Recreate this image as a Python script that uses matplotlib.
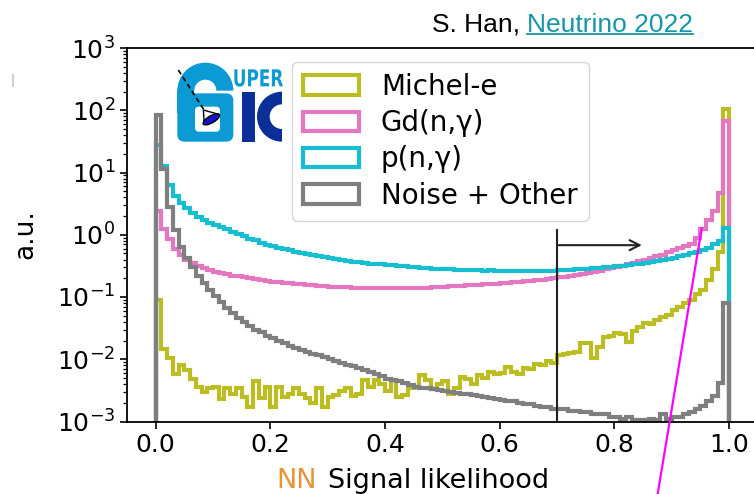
import numpy as np
import matplotlib
matplotlib.use("Agg")
import matplotlib.pyplot as plt
from matplotlib.patches import Wedge, Rectangle, FancyBboxPatch, Polygon, Ellipse, PathPatch
from matplotlib.textpath import TextPath
from matplotlib.font_manager import FontProperties
from matplotlib.transforms import Affine2D
from matplotlib.lines import Line2D

# ---- histogram contents (100 bins on [0, 1]) ----
bin_edges = np.linspace(0.0, 1.0, 101)

michel_e = [
    0.09, 0.0145, 0.0103, 0.0059, 0.0081, 0.0067, 0.0048, 0.0036, 0.0030, 0.0034,
    0.0036, 0.0023, 0.0034, 0.0028, 0.0034, 0.0025, 0.0017, 0.0044, 0.0024, 0.0036,
    0.0017, 0.0036, 0.0025, 0.0028, 0.0034, 0.0028, 0.0024, 0.0020, 0.0034, 0.0017,
    0.0025, 0.0027, 0.0031, 0.0034, 0.0026, 0.0028, 0.0047, 0.0036, 0.0047, 0.0040,
    0.0031, 0.0047, 0.0025, 0.0027, 0.0034, 0.0036, 0.0056, 0.0047, 0.0033, 0.0040,
    0.0045, 0.0028, 0.0035, 0.0052, 0.0048, 0.0040, 0.0055, 0.0050, 0.0062, 0.0058,
    0.0060, 0.0075, 0.0063, 0.0058, 0.0072, 0.0070, 0.0085, 0.0080, 0.0095, 0.0088,
    0.0115, 0.0120, 0.0125, 0.0130, 0.0180, 0.0180, 0.0105, 0.0160, 0.0230, 0.0240,
    0.0260, 0.0255, 0.0190, 0.0280, 0.0330, 0.0380, 0.0370, 0.0430, 0.0480, 0.0520,
    0.0620, 0.0700, 0.0800, 0.0900, 0.110, 0.130, 0.190, 0.280, 0.530, 103.0,
]

gd_capture = [
    2.45, 1.25, 0.85, 0.60, 0.47, 0.40, 0.35, 0.32, 0.29, 0.27,
    0.255, 0.24, 0.23, 0.22, 0.215, 0.21, 0.20, 0.195, 0.185, 0.18,
    0.176, 0.172, 0.168, 0.165, 0.162, 0.16, 0.157, 0.155, 0.152, 0.15,
    0.147, 0.146, 0.144, 0.143, 0.142, 0.141, 0.140, 0.139, 0.139, 0.138,
    0.138, 0.138, 0.139, 0.139, 0.14, 0.14, 0.141, 0.142, 0.143, 0.145,
    0.147, 0.148, 0.15, 0.152, 0.154, 0.156, 0.158, 0.16, 0.162, 0.164,
    0.166, 0.169, 0.172, 0.175, 0.178, 0.181, 0.185, 0.19, 0.195, 0.20,
    0.207, 0.213, 0.22, 0.228, 0.236, 0.245, 0.255, 0.265, 0.278, 0.29,
    0.305, 0.32, 0.335, 0.355, 0.375, 0.395, 0.42, 0.45, 0.48, 0.52,
    0.56, 0.61, 0.66, 0.72, 0.90, 1.25, 1.70, 2.40, 4.70, 66.0,
]

p_capture = [
    28.0, 12.5, 6.3, 4.2, 3.2, 2.65, 2.2, 1.95, 1.72, 1.55,
    1.43, 1.32, 1.22, 1.12, 1.02, 0.94, 0.87, 0.81, 0.75, 0.69,
    0.65, 0.62, 0.59, 0.56, 0.53, 0.51, 0.49, 0.47, 0.45, 0.435,
    0.42, 0.41, 0.40, 0.385, 0.37, 0.36, 0.35, 0.345, 0.34, 0.335,
    0.33, 0.325, 0.32, 0.315, 0.305, 0.30, 0.295, 0.29, 0.285, 0.28,
    0.28, 0.28, 0.275, 0.275, 0.27, 0.27, 0.27, 0.265, 0.27, 0.265,
    0.265, 0.265, 0.26, 0.265, 0.26, 0.26, 0.265, 0.26, 0.265, 0.265,
    0.27, 0.27, 0.275, 0.28, 0.28, 0.285, 0.29, 0.295, 0.30, 0.305,
    0.31, 0.32, 0.325, 0.335, 0.345, 0.355, 0.365, 0.38, 0.39, 0.41,
    0.43, 0.45, 0.47, 0.50, 0.53, 0.57, 0.62, 0.70, 0.80, 1.30,
]

noise_other = [
    85.0, 11.5, 2.8, 1.2, 0.64, 0.42, 0.30, 0.22, 0.165, 0.13,
    0.105, 0.082, 0.066, 0.055, 0.046, 0.040, 0.034, 0.030, 0.027, 0.024,
    0.022, 0.020, 0.018, 0.0165, 0.015, 0.014, 0.013, 0.0123, 0.0115, 0.0108,
    0.0102, 0.0095, 0.0088, 0.0082, 0.0077, 0.0072, 0.0067, 0.0062, 0.0058, 0.0053,
    0.0049, 0.0047, 0.0044, 0.0041, 0.0038, 0.0036, 0.0035, 0.0034, 0.0033, 0.0032,
    0.0031, 0.0030, 0.0029, 0.0028, 0.0028, 0.0027, 0.0026, 0.0025, 0.0024, 0.0023,
    0.0022, 0.0021, 0.0021, 0.0020, 0.0019, 0.0019, 0.0018, 0.0017, 0.0017, 0.0016,
    0.0016, 0.0016, 0.0015, 0.0015, 0.0014, 0.0014, 0.0013, 0.0013, 0.0013, 0.0012,
    0.0012, 0.0011, 0.0012, 0.00105, 0.00105, 0.00105, 0.0011, 0.00105, 0.0013, 0.0011,
    0.0012, 0.0012, 0.0013, 0.0014, 0.0016, 0.0018, 0.0021, 0.0026, 0.0042, 0.08,
]

series_labels = ["Michel-e", "Gd(n,γ)", "p(n,γ)", "Noise + Other"]
series_colors = ["#bcbd22", "#e377c2", "#17becf", "#7f7f7f"]
x_ticks = [0.0, 0.2, 0.4, 0.6, 0.8, 1.0]
likelihood_cut = 0.7

# ---- figure in pixel units ----
W, H = 754, 494
fig = plt.figure(figsize=(W / 100, H / 100), dpi=100)


def fpos(x, y):
    """pixel position (from top-left) -> figure fraction"""
    return (x / W, 1 - y / H)


ax = fig.add_axes([127 / W, 1 - 421.5 / H, (757.7 - 127) / W, (421.5 - 48) / H])
centers = 0.5 * (bin_edges[:-1] + bin_edges[1:])
for vals, lab, col in zip([michel_e, gd_capture, p_capture, noise_other],
                          series_labels, series_colors):
    ax.hist(centers, bins=bin_edges, weights=vals, histtype="step", log=True,
            color=col, lw=3, label=lab)

ax.set_yscale("log")
ax.set_ylim(1e-3, 1e3)
ax.set_xlim(-0.05, 1.05)
ax.set_xticks(x_ticks)
ax.tick_params(axis="both", which="major", labelsize=18, length=5, width=1.2)
ax.tick_params(axis="y", which="minor", length=3, width=0.9)
for s in ax.spines.values():
    s.set_linewidth(1.3)

# cut line and arrow
ax.plot([likelihood_cut, likelihood_cut], [1e-3, 1.2], color="#222222", lw=1.5)
ax.annotate("", xy=(0.848, 0.68), xytext=(likelihood_cut + 0.003, 0.68),
            arrowprops=dict(arrowstyle="->", color="#222222", lw=1.5,
                            mutation_scale=18, shrinkA=0, shrinkB=0))

leg = ax.legend(loc="upper left", bbox_to_anchor=fpos(292, 61.7),
                bbox_transform=fig.transFigure, borderaxespad=0,
                fontsize=20, labelspacing=0.3)

# axis labels
fig.text(*fpos(25, 234), "a.u.", rotation=90, ha="center", va="center", fontsize=19)
fig.text(*fpos(276, 488), "NN", color="#e8953a", fontsize=19.5, ha="left", va="baseline")
fig.text(*fpos(328, 488), "Signal likelihood", color="black", fontsize=19.5,
         ha="left", va="baseline")

# credit line
fig.text(*fpos(432, 31.7), "S. Han,", family="Liberation Sans", fontsize=19,
         ha="left", va="baseline")
link = fig.text(*fpos(527, 31.7), "Neutrino 2022", family="Liberation Sans",
                fontsize=19, color="#1597a5", ha="left", va="baseline")
fig.canvas.draw()
bb = link.get_window_extent()
x0, x1 = bb.x0 / W, bb.x1 / W
fig.add_artist(Line2D([x0, x1], [1 - 33.8 / H] * 2, color="#1597a5", lw=1.3))

# slanted marker line
p0 = fpos(701.7, 228.3)
p1 = fpos(655.0, 510.0)
fig.add_artist(Line2D([p0[0], p1[0]], [p0[1], p1[1]], color="#ff00ff", lw=1.6))

# small grey tick at the far left
fig.add_artist(Line2D([13 / W, 13 / W], [1 - 75 / H, 1 - 86 / H], color="#d0d0d0", lw=1.5))

# ---- Super-K logo ----
lax = fig.add_axes([170 / W, 1 - 150 / H, 125 / W, 90 / H])
lax.set_xlim(0, 375)
lax.set_ylim(270, 0)
lax.axis("off")
light = "#0b9ad3"
dark = "#0a2f98"
lax.add_patch(Wedge((106, 92), 84, 180, 360, width=51, color=light, lw=0))
lax.add_patch(Rectangle((22, 90), 51, 70, color=light, lw=0))
lax.add_patch(FancyBboxPatch((22, 100), 168, 145, boxstyle="round,pad=0,rounding_size=22",
                             color=light, lw=0))
lax.add_patch(FancyBboxPatch((75, 140), 75, 75, boxstyle="round,pad=0,rounding_size=12",
                             color="white", lw=0))
# dark K: bar + C
lax.add_patch(Rectangle((215, 95), 40, 150, color=dark, lw=0))
lax.add_patch(Wedge((336, 170), 75, 90, 270, width=38, color=dark, lw=0))
# UPER lettering
tp = TextPath((0, 0), "UPER", size=10, prop=FontProperties(family="DejaVu Sans", weight="bold"))
ext = tp.get_extents()
tr = (Affine2D().translate(-ext.x0, -ext.y0)
      .scale(146 / ext.width, -52 / ext.height).translate(193, 80))
lax.add_patch(PathPatch(tr.transform_path(tp), color=light, lw=0))
# dashed track and detector cone
lax.plot([25, 102], [30, 150], color="black", lw=1.2, ls=(0, (3, 2)))
lax.add_patch(Polygon([(100, 150), (146, 163), (103, 192)], closed=True,
                      facecolor="white", edgecolor="black", lw=1))
lax.add_patch(Ellipse((124, 178), 56, 21, angle=-30, facecolor="#1414cc",
                      edgecolor="black", lw=1))

fig.savefig("out.png", dpi=100)
